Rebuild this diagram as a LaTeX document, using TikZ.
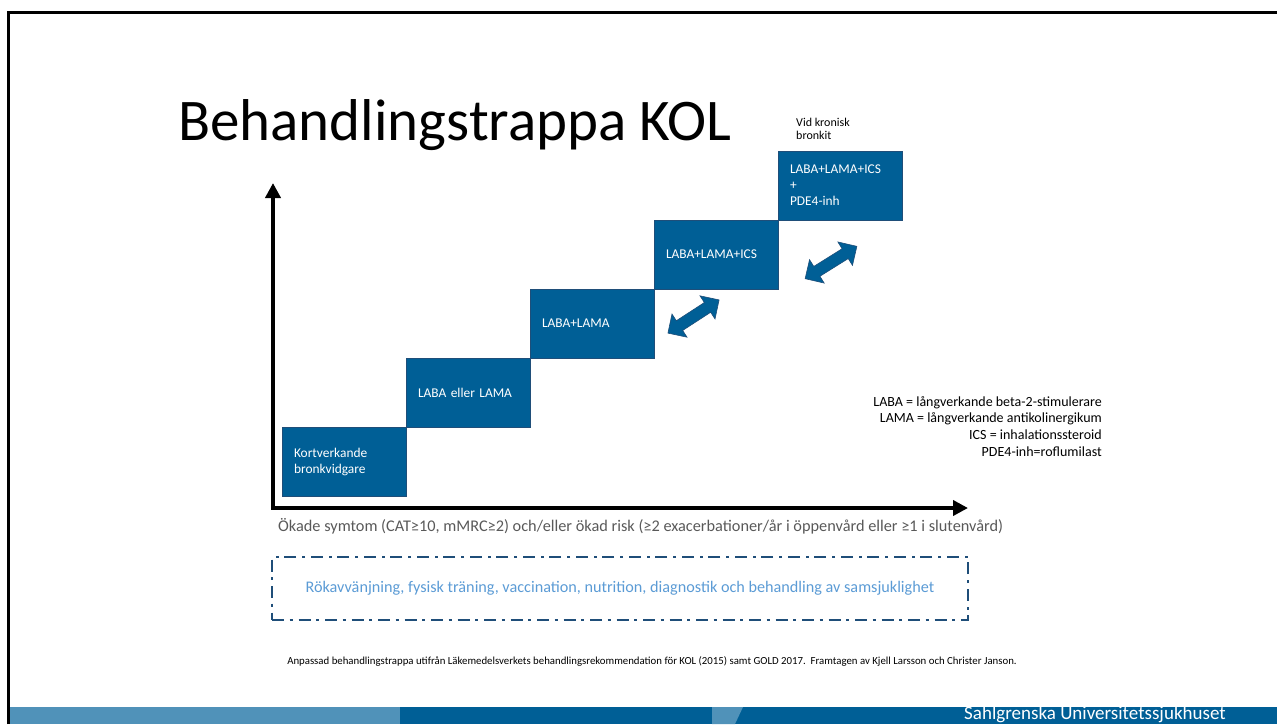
\documentclass[tikz,border=0pt]{standalone}
\usepackage{fontspec}
\setmainfont{Carlito}
\usetikzlibrary{arrows.meta,positioning,shapes.arrows}

\definecolor{kolblue}{RGB}{0,95,150}
\definecolor{koledge}{RGB}{31,78,121}
\definecolor{kollight}{RGB}{91,155,213}
\definecolor{kolbar}{RGB}{80,146,185}
\definecolor{kolgray}{RGB}{89,89,89}

\begin{document}
\begin{tikzpicture}[x=1pt,y=-1pt,>={Triangle[length=15pt,width=15pt]},
                    node distance=0pt]

  \tikzstyle{stepbox}=[rectangle,draw=koledge,line width=0.8pt,fill=kolblue,
                       text=white,minimum width=124pt,minimum height=69pt,
                       text width=100pt,inner xsep=12pt,outer sep=0pt,align=left,
                       font=\fontsize{13.4}{16}\selectfont]
  \tikzstyle{dblarrow}=[double arrow,draw=koledge,fill=kolblue,line width=0.6pt,
                        minimum height=61pt,minimum width=27pt,inner xsep=0pt,
                        inner ysep=5.5pt,double arrow head extend=8pt]

  \useasboundingbox (0,0) rectangle (1277,724);

  \fill[kolbar] (8,707) rectangle (400,724);
  \fill[kolblue] (400,707) rectangle (1277,724);
  \fill[kolbar] (712,707) -- (743,707) -- (735,724) -- (712,724) -- cycle;
  \node[anchor=base west,text=white,inner sep=0pt,
        font=\fontsize{19}{22}\selectfont] (sahl) at (964,719)
        {Sahlgrenska Universitetssjukhuset};
  \draw[line width=3pt] (8.8,724) |- (1277,12.5);

  \node[anchor=base west,inner sep=0pt,font=\fontsize{59}{61}\selectfont]
        (title) at (178,140) {Behandlingstrappa KOL};

  \node[stepbox,anchor=north west] (S1) at (282,427) {Kortverkande\\bronkvidgare};
  \node[stepbox,above right=0pt and 0pt of S1] (S2) {LABA eller LAMA};
  \node[stepbox,above right=0pt and 0pt of S2] (S3) {LABA+LAMA};
  \node[stepbox,above right=0pt and 0pt of S3] (S4) {LABA+LAMA+ICS};
  \node[stepbox,above right=0pt and 0pt of S4] (S5) {LABA+LAMA+ICS\\+\\PDE4-inh};

  \node[anchor=south west,align=left,inner sep=0pt,
        font=\fontsize{12}{13.5}\selectfont] (vid) at (796,140)
        {Vid kronisk\\bronkit};

  \node[dblarrow,rotate=33] (swapA) at (693.5,316.5) {};
  \node[dblarrow,rotate=32] (swapB) at (831,262.5) {};

  \coordinate (O) at (273,508);
  \coordinate (ytip) at (273,183);
  \coordinate (xtip) at (968,508);
  \draw[<->,line width=4.5pt] (ytip) |- (xtip);

  \node[anchor=west,inner sep=0pt,text=kolgray,font=\fontsize{16.3}{19}\selectfont]
        (xlab) at (278,526)
        {Ökade symtom (CAT≥10, mMRC≥2) och/eller ökad risk (≥2 exacerbationer/år i öppenvård eller ≥1 i slutenvård)};

  \node[anchor=north east,align=right,inner sep=0pt,
        font=\fontsize{14}{16.7}\selectfont] (abbr) at (1102,396)
        {LABA = långverkande beta-2-stimulerare\\
         LAMA = långverkande antikolinergikum\\
         ICS = inhalationssteroid\\
         PDE4-inh=roflumilast};

  \node[draw=koledge,line width=2pt,dash pattern=on 12pt off 5.5pt on 3pt off 6pt,
        minimum width=696pt,minimum height=63pt,text=kollight,
        font=\fontsize{16.2}{19}\selectfont] (care) at (620,588.5)
        {Rökavvänjning, fysisk träning, vaccination, nutrition, diagnostik och behandling av samsjuklighet};

  \node[inner sep=0pt,font=\fontsize{10.8}{12}\selectfont] (source) at (652,661)
        {Anpassad behandlingstrappa utifrån Läkemedelsverkets behandlingsrekommendation för KOL (2015) samt GOLD 2017.\ \ Framtagen av Kjell Larsson och Christer Janson.};
\end{tikzpicture}
\end{document}
